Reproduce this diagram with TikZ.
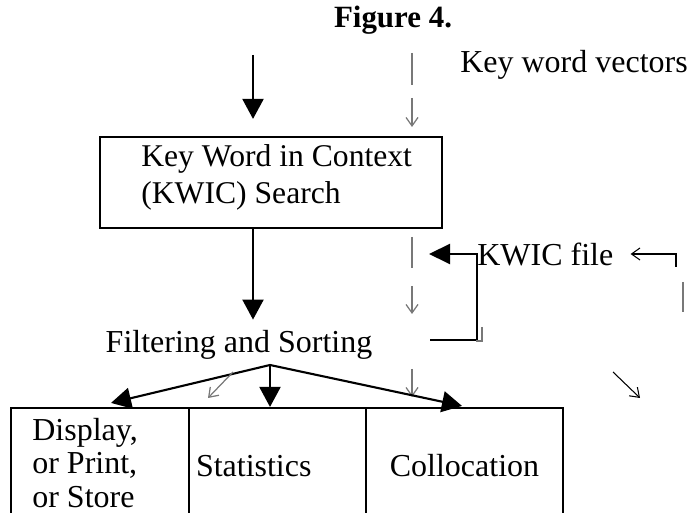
\documentclass[tikz,border=0pt]{standalone}
\usepackage{fontspec}
\setmainfont{Liberation Serif}
\definecolor{faintgray}{RGB}{120,120,120}
\usetikzlibrary{arrows.meta,calc}

\begin{document}
\begin{tikzpicture}[
      txt/.style={font=\fontsize{18.2}{21}\selectfont,inner sep=0pt},
      blk/.style={rectangle,draw,line width=1.2pt,inner ysep=0pt},
      flow/.style={line width=1.2pt,-{Triangle[length=0.4cm,width=0.42cm]}},
      faint/.style={draw=faintgray,line width=0.7pt},
      faintarrow/.style={faint,-{Straight Barb[length=0.17cm,width=0.24cm]}},
      thinarrow/.style={line width=0.6pt,-{Straight Barb[length=0.17cm,width=0.24cm]}}]

      \useasboundingbox (0,0) rectangle (13.78,10.26);
      \clip (0,0) rectangle (13.78,10.26);

      \node[font=\fontsize{17.6}{21}\selectfont\bfseries] (title) at (7.86,9.86) {Figure 4.};

      % Search
      \coordinate (in) at (5.06,9.16);
      \node[txt,anchor=west] (vectors) at (9.2,8.96) {Key word vectors};
      \node[blk,minimum width=6.84cm,minimum height=1.82cm] (kwic) at (5.42,6.61) {};
      \node[txt,font=\fontsize{18}{21}\selectfont,anchor=west,align=left] (kwictext) at (2.82,6.72)
        {Key Word in Context\\(KWIC) Search};
      \draw[flow,shorten >=0.34cm] (in) -- (in |- kwic.north);

      \node[txt] (filter) at (4.78,3.37) {Filtering and Sorting};
      \draw[flow,shorten >=0.2cm] (kwic.south -| in) -- (filter.north -| in);

      % KWIC file
      \node[txt,anchor=west] (kfile) at (9.54,5.18) {KWIC file};
      \coordinate (fb) at (8.60,3.46);
      \coordinate (fk) at (8.58,5.18);
      \draw[line width=1.2pt,-{Triangle[length=0.42cm,width=0.4cm]}] (fb) -| (kfile.west) -- (fk);
      \draw[faint] (9.64,3.72) |- (9.52,3.44);
      \coordinate (kin) at (13.52,4.92);
      \draw[thinarrow,shorten >=0.34cm] (kin) |- (kfile.east);
      \draw[faint] (13.66,4.62) -- (13.66,4.02);

      % Gray pieces
      \foreach \a/\b in {9.20/8.56,5.52/4.90}{
        \draw[faint] (8.24,\a) -- (8.24,\b);
      }
      \foreach \a/\b in {8.30/7.72,4.54/3.98,2.88/2.32}{
        \draw[faintarrow] (8.24,\a) -- (8.24,\b);
      }

      % Output
      \node[blk,minimum width=3.56cm,minimum height=2.32cm] (disp) at (2.0,0.94) {};
      \node[txt,font=\fontsize{18.2}{19}\selectfont,anchor=north west,align=left] (disptext) at (0.64,1.90)
        {Display,\\or Print,\\or Store};
      \node[blk,txt,minimum width=3.54cm,minimum height=2.32cm,text width=3.26cm,
            inner xsep=0.14cm,align=left] (stat) at (5.55,0.94) {Statistics};
      \node[blk,txt,minimum width=3.94cm,minimum height=2.32cm] (coll) at (9.29,0.94) {Collocation};

      \coordinate (apex) at (5.40,2.96);
      \draw[flow] (apex) -- ($(disp.north)+(0.22,0.08)$);
      \draw[flow] (apex) -- (apex |- stat.north);
      \draw[flow] (apex) -- ($(coll.north)+(-0.05,0.02)$);
      \draw[faintarrow] (4.66,2.82) -- (4.16,2.30);
      \draw[thinarrow] (12.26,2.82) -- (12.80,2.30);
    \end{tikzpicture}
\end{document}
